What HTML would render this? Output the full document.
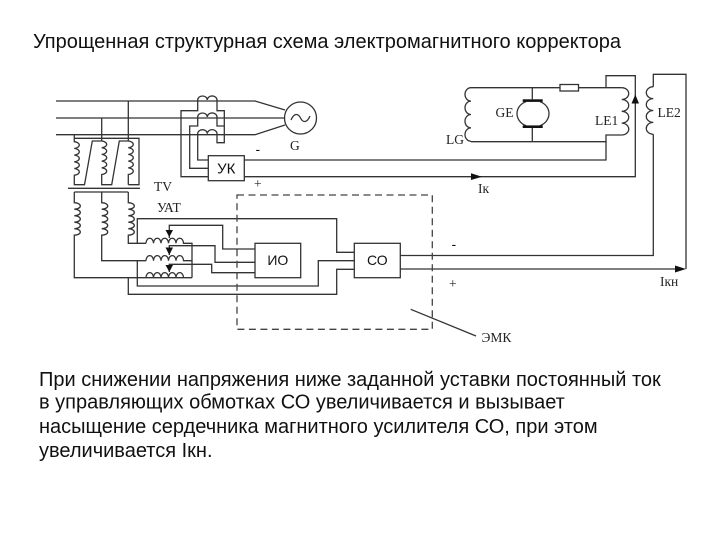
<!DOCTYPE html>
<html><head><meta charset="utf-8"><style>
html,body{margin:0;padding:0;background:#fff}
svg{display:block}
.s{font-family:"Liberation Serif",serif;fill:#222;font-size:13.5px}
.a{font-family:"Liberation Sans",sans-serif;fill:#111}
.t{font-family:"Liberation Sans",sans-serif;fill:#111;font-size:20px}
</style></head><body>
<svg width="720" height="540" viewBox="0 0 720 540" xmlns="http://www.w3.org/2000/svg">
<rect width="720" height="540" fill="#fff"/>
<text class="t" x="33" y="48">Упрощенная структурная схема электромагнитного корректора</text>
<g fill="none" stroke="#333" stroke-width="1.3">
<!-- bus -->
<path d="M56 101H255L285 110M56 118H285M56 134.700H255L285 125"/>
<circle cx="300.500" cy="118" r="16"/>
<path d="M291 120c3-7 7-7 9.500-2s6.500 5 9.500-2"/>
<path d="M128.300 101V141M101.700 118V141"/>
<!-- CT -->
<path d="M197.700 101v-1a4.800 4 0 0 1 9.600 0a4.800 4 0 0 1 9.700 0v1M197.700 118v-1a4.800 4 0 0 1 9.600 0a4.800 4 0 0 1 9.700 0v1M197.700 134.700v-1a4.800 4 0 0 1 9.600 0a4.800 4 0 0 1 9.700 0v1"/>
<path d="M197.700 101V110.700H181V176.700H208.300M197.700 118V126H189.700V168.300H208.300M197.700 134.700V160H208.300"/>
<path d="M217 101V110.700H224.300V142.700H217V134.700M217 118V126H224.300"/>
<!-- UK -->
<rect x="208.300" y="155.700" width="36" height="25"/>
<path d="M244.300 160H606V141.700M244.300 176.700H635.300V75.700H606V87.700"/>
<!-- TV -->
<path d="M74.300 134.700V138.300H139V184.700H128.300M74.300 138.300V141.700a6 3.400 0 0 1 0 6.700a6 3.400 0 0 1 0 6.700a6 3.400 0 0 1 0 6.700a6 3.400 0 0 1 0 6.700a6 3.400 0 0 1 0 6.700V184.700H84.500L92.300 141H101.700"/>
<path d="M101.700 141a6 3.400 0 0 1 0 6.700a6 3.400 0 0 1 0 6.700a6 3.400 0 0 1 0 6.700a6 3.400 0 0 1 0 6.700a6 3.400 0 0 1 0 6.700V184.700H111.700L119.300 141H128.300a6 3.400 0 0 1 0 6.700a6 3.400 0 0 1 0 6.700a6 3.400 0 0 1 0 6.700a6 3.400 0 0 1 0 6.700a6 3.400 0 0 1 0 6.700V184.700"/>
<path d="M68 188.300H140"/>
<path d="M74.300 192H128.300"/>
<path d="M74.300 192V202.700a6 3.250 0 0 1 0 6.500a6 3.250 0 0 1 0 6.500a6 3.250 0 0 1 0 6.500a6 3.250 0 0 1 0 6.500a6 3.250 0 0 1 0 6.500V277.700H192"/>
<path d="M101.700 192V202.700a6 3.250 0 0 1 0 6.500a6 3.250 0 0 1 0 6.500a6 3.250 0 0 1 0 6.500a6 3.250 0 0 1 0 6.500a6 3.250 0 0 1 0 6.500V260.700H146"/>
<path d="M128.300 192V202.700a6 3.250 0 0 1 0 6.500a6 3.250 0 0 1 0 6.500a6 3.250 0 0 1 0 6.500a6 3.250 0 0 1 0 6.500a6 3.250 0 0 1 0 6.500V243.300H146"/>
<!-- autotransformers -->
<path d="M146 243.300a3.700 5 0 0 1 7.500 0a3.700 5 0 0 1 7.500 0a3.700 5 0 0 1 7.500 0a3.700 5 0 0 1 7.500 0a3.700 5 0 0 1 7.500 0H192V277.700"/>
<path d="M146 260.700a3.700 5 0 0 1 7.500 0a3.700 5 0 0 1 7.500 0a3.700 5 0 0 1 7.500 0a3.700 5 0 0 1 7.500 0a3.700 5 0 0 1 7.500 0H192"/>
<path d="M146 277.700a3.700 5 0 0 1 7.500 0a3.700 5 0 0 1 7.500 0a3.700 5 0 0 1 7.500 0a3.700 5 0 0 1 7.500 0a3.700 5 0 0 1 7.500 0"/>
<path d="M137.300 243.300V218.700H336.700V252.300H354.300"/>
<path d="M137.300 260.700V286H318.300V260.700H354.300"/>
<path d="M128.300 277.700V294.300H336.700V269.300H354.300"/>
<path d="M169.300 238V225.300H222.700V249H255M169.300 255V245.700H215V262.300H255M169.300 272V264.300H211.700V272.700H255"/>
<!-- boxes -->
<rect x="255" y="243.300" width="45.700" height="34.400"/>
<rect x="354.300" y="243.300" width="46" height="34.400"/>
<path d="M400.300 255.500H653.300V134.300M653.300 86.700V74.300H686V269M400.300 269H680"/>
<path d="M653.300 86.700a7 5.950 0 0 0 0 11.900a7 5.950 0 0 0 0 11.900a7 5.950 0 0 0 0 11.900a7 5.950 0 0 0 0 11.900"/>
<!-- exciter -->
<path d="M471 87.700H560M578.500 87.700H621.700M471 141.700H606V135H621.700"/>
<path d="M471 87.700a6 6.700 0 0 0 0 13.400a6 6.700 0 0 0 0 13.400a6 6.700 0 0 0 0 13.400a6 6.700 0 0 0 0 13.400"/>
<path d="M621.700 87.700a7 5.900 0 0 1 0 11.800a7 5.900 0 0 1 0 11.800a7 5.900 0 0 1 0 11.800a7 5.900 0 0 1 0 11.900"/>
<rect x="560" y="84.500" width="18.500" height="6.500" fill="#fff"/>
<path d="M532.300 87.700V99.300M532.300 127.700V141.700"/>
<path d="M526 101.700C514 106 514 121 526 125.700M540 101.700C552 106 552 121 540 125.700"/>
<path d="M410.700 309.300L476 336"/>
<path d="M237 195H432.300V329.300H237Z" stroke-dasharray="7 4.500" stroke="#444"/>
</g>
<g fill="#111" stroke="none">
<path d="M165.500 230H173L169.300 237Z M165.500 247.500H173L169.300 255Z M165.500 265H173L169.300 272Z"/>
<path d="M471 173.200L482 176.700L471 180Z M675 265.500L686 269L675 272.500Z M635.300 94.500L631.500 103.500H639Z"/>
<rect x="522.700" y="99.300" width="20" height="2.600"/>
<rect x="522.700" y="125.400" width="20" height="2.600"/>
</g>
<text class="a" x="226.300" y="173.500" font-size="15" text-anchor="middle">УК</text>
<text class="a" x="277.800" y="265" font-size="14" text-anchor="middle">ИО</text>
<text class="a" x="377.300" y="265" font-size="14" text-anchor="middle">СО</text>
<text class="a" x="255.500" y="154" font-size="14">-</text>
<text class="a" x="451.500" y="249" font-size="14">-</text>
<text class="s" x="254" y="188">+</text>
<text class="s" x="449" y="288">+</text>
<text class="s" x="290" y="150">G</text>
<text class="s" x="154" y="191">TV</text>
<text class="s" x="157" y="212">УАТ</text>
<text class="s" x="495.500" y="117">GE</text>
<text class="s" x="595" y="125">LE1</text>
<text class="s" x="657.500" y="117">LE2</text>
<text class="s" x="446" y="144">LG</text>
<text class="s" x="478" y="193">Iк</text>
<text class="s" x="660" y="286">Iкн</text>
<text class="s" x="481.500" y="342">ЭМК</text>
<text class="t" x="39" y="386">При снижении напряжения ниже заданной уставки постоянный ток</text>
<text class="t" x="39" y="408.500">в управляющих обмотках СО увеличивается и вызывает</text>
<text class="t" x="39" y="433">насыщение сердечника магнитного усилителя СО, при этом</text>
<text class="t" x="39" y="457">увеличивается Iкн.</text>
</svg>
</body></html>
